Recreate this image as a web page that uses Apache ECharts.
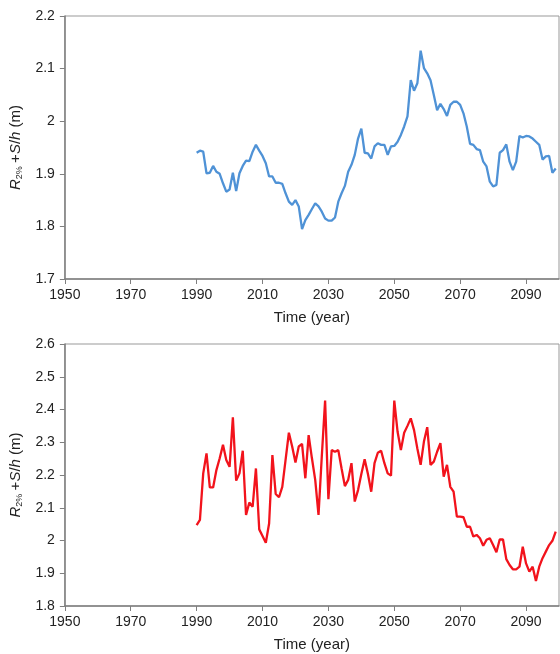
<!DOCTYPE html>
<html>
<head>
<meta charset="utf-8">
<script src="https://cdn.jsdelivr.net/npm/echarts@6/dist/echarts.min.js"></script>
<style>
html,body{margin:0;padding:0;background:#fff;}
#chart{width:560px;height:654px;}
</style>
</head>
<body>
<div id="chart"></div>
<script>
const startYear = 1990;
const xTicks = [1950, 1970, 1990, 2010, 2030, 2050, 2070, 2090];
const topYTicks = [1.7, 1.8, 1.9, 2.0, 2.1, 2.2];
const bottomYTicks = [1.8, 1.9, 2.0, 2.1, 2.2, 2.3, 2.4, 2.5, 2.6];

const topSeries = [
  1.940, 1.944, 1.942, 1.901, 1.902, 1.915, 1.904, 1.900, 1.882, 1.866,
  1.870, 1.902, 1.867, 1.901, 1.915, 1.925, 1.924, 1.942, 1.955, 1.944,
  1.934, 1.920, 1.895, 1.895, 1.883, 1.883, 1.881, 1.863, 1.847, 1.841,
  1.850, 1.838, 1.795, 1.812, 1.822, 1.833, 1.844, 1.838, 1.828, 1.815,
  1.811, 1.811, 1.817, 1.847, 1.863, 1.877, 1.904, 1.917, 1.936, 1.967,
  1.986, 1.940, 1.939, 1.929, 1.952, 1.958, 1.955, 1.955, 1.936, 1.952,
  1.953, 1.961, 1.974, 1.990, 2.009, 2.078, 2.058, 2.072, 2.134, 2.101,
  2.091, 2.078, 2.050, 2.021, 2.033, 2.023, 2.010, 2.031, 2.037, 2.037,
  2.031, 2.015, 1.990, 1.957, 1.955, 1.947, 1.945, 1.923, 1.914, 1.885,
  1.876, 1.879, 1.940, 1.945, 1.956, 1.923, 1.907, 1.923, 1.972, 1.969,
  1.972, 1.971, 1.967, 1.961, 1.955, 1.927, 1.933, 1.934, 1.902, 1.910
];

const bottomSeries = [
  2.047, 2.063, 2.205, 2.266, 2.162, 2.162, 2.215, 2.251, 2.292, 2.246,
  2.225, 2.376, 2.183, 2.205, 2.274, 2.078, 2.116, 2.103, 2.220, 2.034,
  2.014, 1.993, 2.052, 2.261, 2.142, 2.132, 2.164, 2.246, 2.329, 2.287,
  2.238, 2.287, 2.295, 2.190, 2.322, 2.251, 2.185, 2.078, 2.258, 2.427,
  2.126, 2.276, 2.271, 2.276, 2.220, 2.166, 2.185, 2.236, 2.119, 2.154,
  2.203, 2.248, 2.203, 2.149, 2.236, 2.268, 2.274, 2.236, 2.205, 2.198,
  2.427, 2.332, 2.276, 2.329, 2.350, 2.373, 2.337, 2.281, 2.231, 2.302,
  2.346, 2.231, 2.241, 2.271, 2.297, 2.195, 2.231, 2.164, 2.149, 2.073,
  2.073, 2.071, 2.042, 2.042, 2.012, 2.017, 2.007, 1.984, 2.002, 2.007,
  1.986, 1.964, 2.003, 2.003, 1.943, 1.925, 1.912, 1.912, 1.920, 1.981,
  1.930, 1.905, 1.920, 1.876, 1.920, 1.946, 1.966, 1.986, 1.999, 2.027
];

const xTitle = 'Time (year)';
const yTitleRich = '{it|R}{sub|2%} {n|+}{it|S}{n|/}{it|h}{n| (m)}';

const years = topSeries.map((_, i) => startYear + i);
const pair = (vals) => vals.map((v, i) => [years[i], v]);

const axisGray = '#7f7f7f';
const textColor = '#222';
const font = 'Liberation Sans, Arial, sans-serif';

function xAxisCfg(gridIndex) {
  return {
    type: 'value', gridIndex,
    min: xTicks[0], max: 2100, interval: xTicks[1] - xTicks[0],
    name: xTitle, nameLocation: 'middle', nameGap: 31,
    nameTextStyle: { color: textColor, fontSize: 15, fontFamily: font },
    axisLine: { show: true, lineStyle: { color: axisGray, width: 1.5 } },
    axisTick: { show: true, inside: false, length: 5, lineStyle: { color: axisGray } },
    axisLabel: {
      color: textColor, fontSize: 14, fontFamily: font, margin: 9,
      showMaxLabel: false,
      formatter: (v) => xTicks.includes(v) ? String(v) : ''
    },
    splitLine: { show: false }
  };
}
function yAxisCfg(gridIndex, ticks) {
  return {
    type: 'value', gridIndex,
    min: ticks[0], max: ticks[ticks.length - 1], interval: 0.1,
    name: yTitleRich, nameLocation: 'middle', nameGap: 32, nameRotate: 90,
    nameTextStyle: {
      color: textColor, fontFamily: font,
      rich: {
        it: { fontStyle: 'italic', fontSize: 15, color: textColor, fontFamily: font, lineHeight: 18 },
        n: { fontSize: 15, color: textColor, fontFamily: font, lineHeight: 18 },
        sub: { fontSize: 9, color: textColor, fontFamily: font, verticalAlign: 'bottom', lineHeight: 12, padding: [6, 0, 0, 0] }
      }
    },
    axisLine: { show: true, lineStyle: { color: axisGray, width: 1.5 } },
    axisTick: { show: true, inside: false, length: 5, lineStyle: { color: axisGray } },
    axisLabel: {
      color: textColor, fontSize: 14, fontFamily: font, margin: 10,
      formatter: (v) => String(Math.round(v * 10) / 10)
    },
    splitLine: { show: false }
  };
}

const chart = echarts.init(document.getElementById('chart'), null, { renderer: 'canvas' });
chart.setOption({
  animation: false,
  backgroundColor: '#fff',
  grid: [
    { left: 63, top: 16, width: 496, height: 263, show: true, borderColor: '#999', borderWidth: 1, backgroundColor: 'transparent' },
    { left: 63, top: 344, width: 496, height: 262, show: true, borderColor: '#999', borderWidth: 1, backgroundColor: 'transparent' }
  ],
  xAxis: [xAxisCfg(0), xAxisCfg(1)],
  yAxis: [yAxisCfg(0, topYTicks), yAxisCfg(1, bottomYTicks)],
  series: [
    { type: 'line', xAxisIndex: 0, yAxisIndex: 0, data: pair(topSeries), showSymbol: false,
      lineStyle: { color: '#4f92d6', width: 2.3 }, itemStyle: { color: '#4f92d6' } },
    { type: 'line', xAxisIndex: 1, yAxisIndex: 1, data: pair(bottomSeries), showSymbol: false,
      lineStyle: { color: '#f2131c', width: 2.3 }, itemStyle: { color: '#f2131c' } }
  ]
});
</script>
</body>
</html>
